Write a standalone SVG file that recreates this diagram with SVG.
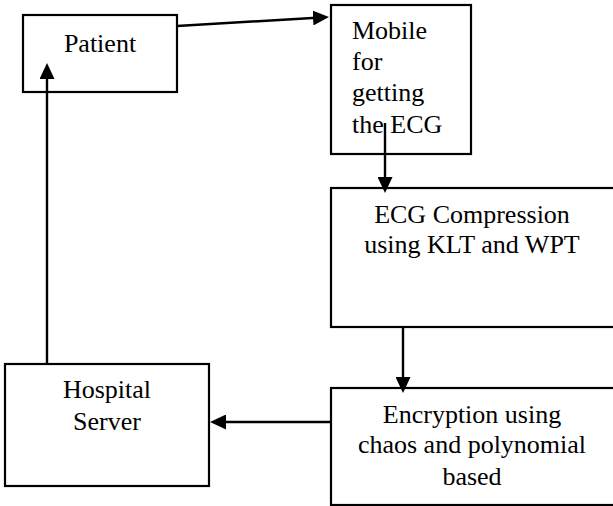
<svg xmlns="http://www.w3.org/2000/svg" width="613" height="506" viewBox="0 0 613 506">
  <defs>
    <style>
      .box { fill: #ffffff; stroke: #000000; stroke-width: 2.2; }
      .conn { stroke: #000000; stroke-width: 2.4; fill: none; }
    </style>
    <marker id="arrow" markerUnits="userSpaceOnUse" viewBox="0 0 16 15" refX="12" refY="7.5" markerWidth="16" markerHeight="15" orient="auto">
      <path d="M0,0 L16,7.5 L0,15 Z" fill="#000000"/>
    </marker>
  </defs>
  <rect width="613" height="506" fill="#ffffff"/>

  <g id="patient">
    <rect class="box" x="23" y="15" width="154" height="77"/>
    <text x="100" y="52" text-anchor="middle" style="font-family: 'Liberation Serif', serif; font-size: 26px">Patient</text>
  </g>

  <g id="mobile">
    <rect class="box" x="331" y="5" width="140" height="149"/>
    <text x="352" y="39" style="font-family: 'Liberation Serif', serif; font-size: 26px">Mobile</text>
    <text x="352" y="70" style="font-family: 'Liberation Serif', serif; font-size: 26px">for</text>
    <text x="352" y="101" style="font-family: 'Liberation Serif', serif; font-size: 26px">getting</text>
    <text x="352" y="133" style="font-family: 'Liberation Serif', serif; font-size: 26px">the ECG</text>
  </g>

  <g id="compression">
    <rect class="box" x="331" y="188" width="290" height="139"/>
    <text x="472" y="223" text-anchor="middle" style="font-family: 'Liberation Serif', serif; font-size: 26px">ECG Compression</text>
    <text x="472" y="253" text-anchor="middle" style="font-family: 'Liberation Serif', serif; font-size: 26px">using KLT and WPT</text>
  </g>

  <g id="encryption">
    <rect class="box" x="331" y="388" width="290" height="117"/>
    <text x="472" y="423" text-anchor="middle" style="font-family: 'Liberation Serif', serif; font-size: 26px">Encryption using</text>
    <text x="472" y="453" text-anchor="middle" style="font-family: 'Liberation Serif', serif; font-size: 26px">chaos and polynomial</text>
    <text x="472" y="485" text-anchor="middle" style="font-family: 'Liberation Serif', serif; font-size: 26px">based</text>
  </g>

  <g id="hospital">
    <rect class="box" x="5" y="364" width="204" height="122"/>
    <text x="107" y="398" text-anchor="middle" style="font-family: 'Liberation Serif', serif; font-size: 26px">Hospital</text>
    <text x="107" y="430" text-anchor="middle" style="font-family: 'Liberation Serif', serif; font-size: 26px">Server</text>
  </g>

  <g id="connectors">
    <line class="conn" x1="177" y1="26" x2="325" y2="17.24" marker-end="url(#arrow)"/>
    <line class="conn" x1="385" y1="123" x2="385" y2="189" marker-end="url(#arrow)"/>
    <line class="conn" x1="403" y1="327" x2="403" y2="389" marker-end="url(#arrow)"/>
    <line class="conn" x1="331" y1="422" x2="214" y2="422" marker-end="url(#arrow)"/>
    <line class="conn" x1="47" y1="364" x2="47" y2="67" marker-end="url(#arrow)"/>
  </g>
</svg>
